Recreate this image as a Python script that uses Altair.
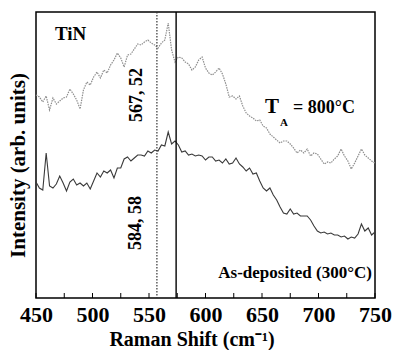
import altair as alt
import pandas as pd

# Raman shift grid (cm^-1)
wavenumber = list(range(450, 751, 3))

# T_A = 800 °C spectrum (arb. units)
ta800 = [203, 201, 196, 202, 188, 200, 194, 197, 200, 201,
         209, 204, 198, 189, 208, 216, 213, 221, 226, 220,
         228, 225, 233, 238, 245, 240, 231, 243, 244, 249,
         254, 253, 256, 258, 255, 253, 250, 255, 258, 275,
         248, 236, 241, 240, 236, 234, 228, 231, 238, 241,
         230, 225, 223, 226, 230, 224, 214, 201, 202, 199,
         202, 192, 185, 182, 180, 177, 178, 172, 170, 164,
         161, 158, 155, 157, 157, 154, 150, 145, 148, 145,
         149, 142, 145, 144, 139, 134, 136, 135, 139, 142,
         149, 142, 137, 129, 135, 142, 149, 143, 140, 137,
         135]

# As-deposited (300 °C) spectrum (arb. units)
asdep = [116, 110, 108, 145, 112, 110, 114, 122, 115, 107,
         116, 119, 113, 115, 112, 115, 109, 117, 125, 121,
         127, 125, 128, 120, 130, 130, 139, 141, 137, 140,
         143, 143, 142, 147, 145, 148, 147, 153, 152, 166,
         154, 157, 153, 146, 147, 143, 144, 142, 143, 142,
         138, 141, 141, 137, 138, 135, 139, 134, 135, 140,
         134, 131, 127, 130, 124, 125, 117, 110, 107, 110,
         103, 98, 91, 85, 84, 89, 84, 85, 82, 82,
         82, 78, 72, 67, 65, 66, 64, 65, 63, 63,
         61, 62, 59, 61, 60, 64, 74, 67, 70, 63,
         66]

x_labels = [450, 500, 550, 600, 650, 700, 750]
minor_ticks = list(range(450, 751, 25))
dotted_line = [557]
solid_line = [574]

FONT = "Liberation Serif"

df = pd.DataFrame({"w": wavenumber, "ta": ta800, "as": asdep})

xs = alt.Scale(domain=[450, 750], nice=False, zero=False)
ys = alt.Scale(domain=[0, 286], nice=False, zero=False)

x_axis = alt.Axis(values=x_labels, labelFlush=False, titleX=155.5, titleY=47,
                  titleBaseline="alphabetic", labelPadding=6,
                  labelFont=FONT, titleFont=FONT)
y_axis = alt.Axis(labels=False, titleX=-8, titleY=153, titleBaseline="bottom", titleAngle=270,
                  titleFont=FONT)

base = alt.Chart(df)
upper = base.mark_line(color="#8e8e8e", strokeWidth=1.2, strokeDash=[1.5, 1]).encode(
    x=alt.X("w:Q", scale=xs, axis=x_axis, title="Raman Shift (cm⁻¹)"),
    y=alt.Y("ta:Q", scale=ys, axis=y_axis, title="Intensity (arb. units)"),
)
lower = base.mark_line(color="#3a3a3a", strokeWidth=1.1).encode(
    x=alt.X("w:Q", scale=xs, axis=x_axis, title="Raman Shift (cm⁻¹)"),
    y=alt.Y("as:Q", scale=ys, axis=y_axis, title="Intensity (arb. units)"))

vdot = alt.Chart(pd.DataFrame({"x": dotted_line})).mark_rule(
    color="#333333", strokeWidth=1.2, strokeDash=[1.5, 1.5]).encode(x=alt.X("x:Q", scale=xs))
vsolid = alt.Chart(pd.DataFrame({"x": solid_line})).mark_rule(
    color="black", strokeWidth=1.4).encode(x=alt.X("x:Q", scale=xs))

ticks = alt.Chart(pd.DataFrame({"t": minor_ticks})).mark_rule(color="black", strokeWidth=1).encode(
    x=alt.X("t:Q", scale=xs), y=alt.value(286), y2=alt.value(281))


def label(texts, xv, yv, size, angle=0, align="left", baseline="alphabetic"):
    d = pd.DataFrame({"x": xv, "y": yv, "t": texts})
    return alt.Chart(d).mark_text(font=FONT, fontWeight="bold", fontSize=size, color="black",
                                  angle=angle, align=align, baseline=baseline).encode(
        x=alt.X("x:Q", scale=xs), y=alt.Y("y:Q", scale=ys), text="t:N")


tin = label(["TiN"], [466.8], [258], 19)
peak1 = label(["567, 52"], [539.4], [203], 18, angle=270, align="center", baseline="middle")
peak2 = label(["584, 58"], [538.5], [75], 18, angle=270, align="center", baseline="middle")
t_big = label(["T"], [652.7], [185], 21)
t_sub = label(["A"], [666.0], [172], 11)
t_rest = label(["= 800°C"], [677.4], [185], 18)
asd = label(["As-deposited (300°C)"], [747.3], [20], 17, align="right")

chart = alt.layer(upper, lower, vdot, vsolid, ticks, tin, peak1, peak2, t_big, t_sub, t_rest, asd).properties(
    width=339, height=286,
    padding={"left": 36, "top": 12, "right": 19, "bottom": 52},
    autosize=alt.AutoSizeParams(type="none"),
).configure(
    font=FONT, background="white"
).configure_view(
    stroke="black", strokeWidth=1.5
).configure_axis(
    labelFont=FONT, labelFontSize=22, labelFontWeight="bold", labelColor="black",
    titleFont=FONT, titleFontWeight="bold", titleColor="black",
    ticks=False, tickSize=0, domain=False, grid=False,
).configure_axisX(titleFontSize=20).configure_axisY(titleFontSize=21)

chart.save("out.html", embed_options={"renderer": "svg", "actions": False})
